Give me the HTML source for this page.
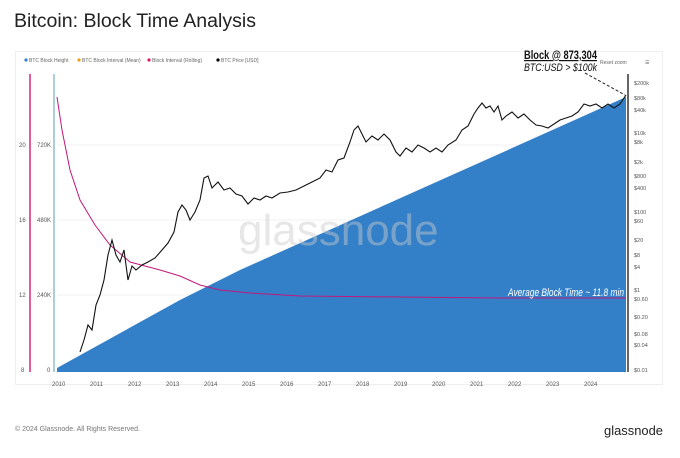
<!DOCTYPE html>
<html><head><style>
body{margin:0;width:680px;height:453px;background:#fff;overflow:hidden;font-family:"Liberation Sans",sans-serif}
</style></head><body>
<svg width="680" height="453" xmlns="http://www.w3.org/2000/svg" font-family="Liberation Sans, sans-serif">
<text x="14" y="27" font-size="19" fill="#222" textLength="242" lengthAdjust="spacingAndGlyphs">Bitcoin: Block Time Analysis</text>
<rect x="15.5" y="51.5" width="647" height="333" fill="#fff" stroke="#eee"/>
<g font-size="5" fill="#666">
<circle cx="26" cy="60" r="1.6" fill="#2f7ed8"/><text x="29" y="62">BTC Block Height</text>
<circle cx="79" cy="60" r="1.6" fill="#f39c12"/><text x="82" y="62">BTC Block Interval (Mean)</text>
<circle cx="149" cy="60" r="1.6" fill="#e0195a"/><text x="152" y="62">Block Interval (Rolling)</text>
<circle cx="218" cy="60" r="1.6" fill="#000"/><text x="221" y="62">BTC Price [USD]</text>
<text x="600" y="64">Reset zoom</text><text x="645" y="64">☰</text>
</g>
<line x1="30" y1="74" x2="30" y2="372" stroke="#d6287a" stroke-width="1.5"/>
<line x1="54" y1="74" x2="54" y2="372" stroke="#5a9bb5" stroke-width="1"/>
<line x1="628" y1="74" x2="628" y2="372" stroke="#333" stroke-width="1.5"/>
<g stroke="#f2f2f2"><line x1="57" y1="145" x2="626" y2="145"/><line x1="57" y1="220" x2="626" y2="220"/><line x1="57" y1="295" x2="626" y2="295"/></g>
<g font-size="6" fill="#555">
<text x="19" y="147">20</text><text x="19" y="222">16</text><text x="19" y="297">12</text><text x="21" y="372">8</text>
<text x="37" y="147">720K</text><text x="37" y="222">480K</text><text x="37" y="297">240K</text><text x="47" y="372">0</text>
</g>
<polygon points="57,368 180,300 240,270 626,97 626,372 57,372" fill="#3380c8"/>
<text x="238" y="245" font-size="44" fill="#ccc" opacity="0.45">glassnode</text>
<polyline fill="none" stroke="#c2187a" stroke-width="1" points="57,97 62,130 70,170 80,200 95,225 110,245 130,262 160,270 180,276 200,285 220,290 250,293 300,296 400,297 500,298 626,298"/>
<polyline fill="none" stroke="#111" stroke-width="1.1" points="80,352 84,340 88,325 92,330 96,305 100,295 104,280 108,255 112,240 116,255 120,262 124,250 128,280 132,266 136,270 142,265 148,262 155,258 162,250 168,243 174,232 178,212 182,205 186,210 190,220 195,212 200,200 204,178 208,176 212,188 218,182 224,190 230,188 236,194 242,196 248,204 254,198 260,200 266,196 272,198 280,193 288,192 296,190 304,186 312,182 320,178 326,170 332,172 338,160 344,158 350,142 354,130 358,126 362,134 366,142 372,136 378,140 384,134 390,140 396,152 400,156 406,148 412,152 418,145 424,148 430,152 436,148 442,152 448,145 456,140 462,130 468,126 474,114 478,108 482,103 486,108 490,106 494,112 498,106 502,120 506,116 512,112 518,118 524,114 530,120 536,125 542,126 548,128 554,124 560,120 566,118 572,116 578,112 584,104 590,106 596,104 602,108 608,104 614,108 620,104 624,98 626,95"/>
<line x1="585" y1="73" x2="625" y2="95" stroke="#222" stroke-dasharray="3,2"/>
<text x="524" y="59" font-size="12" font-weight="bold" fill="#111" text-decoration="underline" textLength="73" lengthAdjust="spacingAndGlyphs">Block @ 873,304</text>
<text x="524" y="71" font-size="11" font-style="italic" fill="#111" textLength="73" lengthAdjust="spacingAndGlyphs">BTC:USD &gt; $100k</text>
<text x="508" y="296" font-size="11" font-style="italic" fill="#fff" textLength="116" lengthAdjust="spacingAndGlyphs">Average Block Time ~ 11.8 min</text>
<g font-size="5.5" fill="#555">
<text x="634" y="85">$200k</text><text x="634" y="100">$80k</text><text x="634" y="112">$40k</text><text x="634" y="135">$10k</text><text x="634" y="144">$8k</text><text x="634" y="164">$2k</text><text x="634" y="178">$800</text><text x="634" y="190">$400</text><text x="634" y="214">$100</text><text x="634" y="223">$60</text><text x="634" y="242">$20</text><text x="634" y="257">$8</text><text x="634" y="269">$4</text><text x="634" y="292">$1</text><text x="634" y="301">$0.60</text><text x="634" y="319">$0.20</text><text x="634" y="336">$0.08</text><text x="634" y="347">$0.04</text><text x="634" y="372">$0.01</text>
</g>
<g font-size="6" fill="#555">
<text x="52" y="386">2010</text><text x="90" y="386">2011</text><text x="128" y="386">2012</text><text x="166" y="386">2013</text><text x="204" y="386">2014</text><text x="242" y="386">2015</text><text x="280" y="386">2016</text><text x="318" y="386">2017</text><text x="356" y="386">2018</text><text x="394" y="386">2019</text><text x="432" y="386">2020</text><text x="470" y="386">2021</text><text x="508" y="386">2022</text><text x="546" y="386">2023</text><text x="584" y="386">2024</text>
</g>
<text x="15" y="431" font-size="7" fill="#777">© 2024 Glassnode. All Rights Reserved.</text>
<text x="604" y="435" font-size="13" fill="#222" textLength="59" lengthAdjust="spacingAndGlyphs">glassnode</text>
</svg>
</body></html>
